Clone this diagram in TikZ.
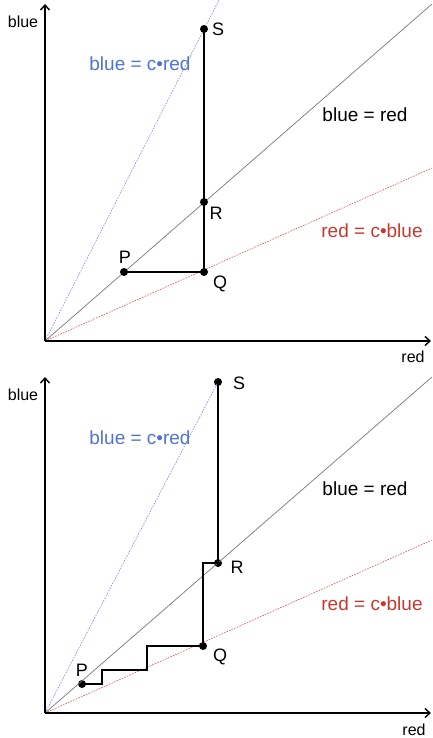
\documentclass[tikz,border=0pt]{standalone}
\usepackage{fontspec}
\setmainfont{Liberation Sans}
\usetikzlibrary{arrows.meta}
\definecolor{lblue}{RGB}{80,115,210}
\definecolor{lred}{RGB}{200,55,45}
\definecolor{llblue}{RGB}{115,145,225}
\definecolor{llred}{RGB}{215,85,80}
\definecolor{dgray}{RGB}{120,120,120}
\tikzset{
  axis/.style={line width=1.8pt,-{Straight Barb[length=5pt,width=9pt,line width=1.4pt]}},
  diag/.style={dgray,line width=0.7pt},
  bline/.style={llblue,line width=0.6pt,dash pattern=on 1.6pt off 1.2pt},
  rline/.style={llred,line width=0.6pt,dash pattern=on 1.6pt off 1.2pt},
  segpath/.style={line width=1.3pt},
  dot/.style={circle,fill=black,inner sep=0pt,minimum size=8pt},
  ptlabel/.style={font=\fontsize{18}{20}\selectfont},
  axlabel/.style={font=\fontsize{16}{18}\selectfont},
  eqlabel/.style={font=\fontsize{19}{22}\selectfont},
}
\begin{document}
\begin{tikzpicture}[x=1pt,y=-1pt]
\useasboundingbox (0,0) rectangle (432,738);
% ---------- top panel ----------
\coordinate (O1) at (45,341);
\coordinate (Y1) at (45,4);
\coordinate (X1) at (431,341);
\coordinate (E1a) at (432,4);
\coordinate (E1b) at (219,0);
\coordinate (E1c) at (432,168);
\draw[diag] (O1) -- (E1a);
\draw[bline] (O1) -- (E1b);
\draw[rline] (O1) -- (E1c);
\draw[axis] (O1) -- (Y1);
\draw[axis] (O1) -- (X1);
\node[axlabel] (ylab1) at (23,22) {blue};
\node[axlabel] (xlab1) at (413,357) {red};
\node[eqlabel,text=lblue] (eqb1) at (140,64) {blue = c•red};
\node[eqlabel] (eqm1) at (365,115) {blue = red};
\node[eqlabel,text=lred] (eqr1) at (372,231) {red = c•blue};
\node[dot] (P1) at (124,272) {};
\node[dot] (Q1) at (204,272) {};
\node[dot] (R1) at (204,202) {};
\node[dot] (S1) at (204,29) {};
\draw[segpath] (P1.center) -- (Q1.center) -- (R1.center) -- (S1.center);
\node[ptlabel] (P1l) at (125,257) {P};
\node[ptlabel] (Q1l) at (220,284) {Q};
\node[ptlabel] (R1l) at (216,213) {R};
\node[ptlabel] (S1l) at (218,29) {S};
% ---------- bottom panel ----------
\coordinate (O2) at (45,713);
\coordinate (Y2) at (45,377);
\coordinate (X2) at (431,713);
\coordinate (E2a) at (432,377);
\coordinate (E2c) at (432,540);
\node[dot] (P2) at (82,684) {};
\node[dot] (Q2) at (203,646) {};
\node[dot] (R2) at (218,563) {};
\node[dot] (S2) at (218,382) {};
\draw[diag] (O2) -- (E2a);
\draw[bline] (O2) -- (S2.center);
\draw[rline] (O2) -- (E2c);
\draw[axis] (O2) -- (Y2);
\draw[axis] (O2) -- (X2);
\node[axlabel] (ylab2) at (23,395) {blue};
\node[axlabel] (xlab2) at (414,730) {red};
\node[eqlabel,text=lblue] (eqb2) at (140,438) {blue = c•red};
\node[eqlabel] (eqm2) at (365,489) {blue = red};
\node[eqlabel,text=lred] (eqr2) at (372,604) {red = c•blue};
\coordinate (s1) at (102,684);
\coordinate (s2) at (102,670);
\coordinate (s3) at (147,670);
\coordinate (s4) at (147,646);
\coordinate (s5) at (203,563);
\draw[segpath] (P2.center) -- (s1) -- (s2) -- (s3) -- (s4) -- (Q2.center) -- (s5) -- (R2.center) -- (S2.center);
\node[ptlabel] (P2l) at (82,670) {P};
\node[ptlabel] (Q2l) at (220,657) {Q};
\node[ptlabel] (R2l) at (237,567) {R};
\node[ptlabel] (S2l) at (239,383) {S};
\end{tikzpicture}
\end{document}
